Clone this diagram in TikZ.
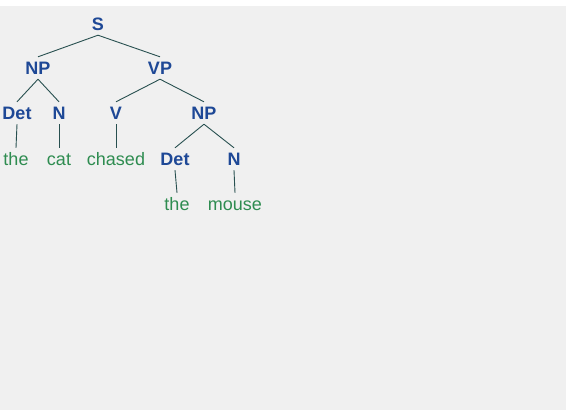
\documentclass[tikz,border=0pt]{standalone}
\usepackage{fontspec}
\setmainfont{Liberation Sans}
\definecolor{bgc}{RGB}{240,240,240}
\definecolor{labc}{RGB}{30,72,150}
\definecolor{wordc}{RGB}{46,140,80}
\definecolor{edgec}{RGB}{40,80,80}
\tikzset{
  base/.style={inner xsep=1pt, inner ysep=4.5pt, text height=13pt, text depth=0pt, font=\fontsize{18}{20}\selectfont},
  lab/.style={base, text=labc, font=\fontsize{18}{20}\selectfont\bfseries},
  word/.style={base, text=wordc},
  edge/.style={draw=edgec, line width=0.9pt}
}
\begin{document}
\begin{tikzpicture}[x=1pt,y=-1pt]
\useasboundingbox (0,0) rectangle (566,410);
\fill[white] (0,0) rectangle (566,6);
\fill[bgc] (0,6) rectangle (566,410);
\node[lab] (S) at (98,24) {S};
\node[lab] (NP) at (38,68) {NP};
\node[lab] (VP) at (160,68) {VP};
\node[lab] (Det) at (17,113) {Det};
\node[lab] (N) at (59,113) {N};
\node[lab] (V) at (116,113) {V};
\node[lab] (NPb) at (204,113) {NP};
\node[word] (the) at (16,159) {the};
\node[word] (cat) at (59,159) {cat};
\node[word] (chased) at (116,159) {chased};
\node[lab] (Detb) at (175,159) {Det};
\node[lab] (Nb) at (234,159) {N};
\node[word] (theb) at (177,204) {the};
\node[word] (mouse) at (235,204) {mouse};
\draw[edge] (S.south) -- (NP.north);
\draw[edge] (S.south) -- (VP.north);
\draw[edge] (NP.south) -- (Det.north);
\draw[edge] (NP.south) -- (N.north);
\draw[edge] (VP.south) -- (V.north);
\draw[edge] (VP.south) -- (NPb.north);
\draw[edge] (Det.south) -- (the.north);
\draw[edge] (N.south) -- (cat.north);
\draw[edge] (V.south) -- (chased.north);
\draw[edge] (NPb.south) -- (Detb.north);
\draw[edge] (NPb.south) -- (Nb.north);
\draw[edge] (Detb.south) -- (theb.north);
\draw[edge] (Nb.south) -- (mouse.north);
\end{tikzpicture}
\end{document}
